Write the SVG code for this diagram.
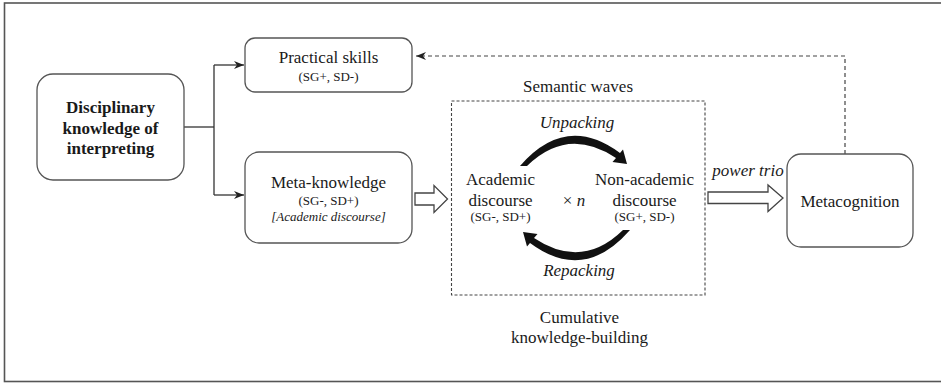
<svg xmlns="http://www.w3.org/2000/svg" width="941" height="383" viewBox="0 0 941 383" font-family="Liberation Serif, Tinos, DejaVu Serif, serif">
<style>
text{font-family:'Liberation Serif',Tinos,'Times New Roman','DejaVu Serif',serif;fill:#1a1a1a;text-anchor:middle}
.t{font-size:17px}
.s{font-size:13px}
.b{font-weight:bold}
.i{font-style:italic}
.box{fill:#fff;stroke:#555;stroke-width:1.3}
.ln{fill:none;stroke:#333;stroke-width:1.3}
.dash{fill:none;stroke:#444;stroke-width:1.2;stroke-dasharray:4 3}
.hollow{fill:#fff;stroke:#444;stroke-width:1.3;stroke-linejoin:miter}
.curve{fill:#111;stroke:none}
</style>
<defs>
<marker id="ah" viewBox="0 0 10 8" refX="10" refY="4" markerWidth="10" markerHeight="8" markerUnits="userSpaceOnUse" orient="auto">
<path d="M0,0 L10,4 L0,8 L3,4 Z" fill="#222"/>
</marker>
</defs>
<rect x="4.5" y="3" width="960" height="378.5" fill="#fff" stroke="#555" stroke-width="1.6"/>

<g id="connectors">
<path class="ln" d="M184,127 H214"/>
<path class="ln" d="M214,65 V195"/>
<path class="ln" d="M214,65 H244" marker-end="url(#ah)"/>
<path class="ln" d="M214,195 H244" marker-end="url(#ah)"/>
<path class="dash" d="M845,154 V56 H416" marker-end="url(#ah)"/>
<path class="hollow" d="M415,193 H434 V185.5 L447.5,199 L434,212.5 V205 H415 Z"/>
<path class="hollow" d="M708,192 H768 V185 L783,198 L768,211.5 V203.5 H708 Z"/>
<text class="t i" x="748" y="176">power trio</text>
</g>

<g id="disciplinary">
<rect class="box" x="37" y="74" width="147" height="106" rx="16"/>
<text class="t b" x="110.5" y="113">Disciplinary</text>
<text class="t b" x="110.5" y="133.5">knowledge of</text>
<text class="t b" x="110.5" y="154">interpreting</text>
</g>

<g id="practical">
<rect class="box" x="245" y="38" width="167" height="54" rx="10"/>
<text class="t" x="328.5" y="63">Practical skills</text>
<text class="s" x="328.5" y="81">(SG+, SD-)</text>
</g>

<g id="meta">
<rect class="box" x="245" y="152" width="167" height="91" rx="14"/>
<text class="t" x="328.5" y="188">Meta-knowledge</text>
<text class="s" x="328.5" y="205">(SG-, SD+)</text>
<text class="s i" x="328.5" y="220.5">[Academic discourse]</text>
</g>

<g id="semantic">
<text class="t" x="578" y="92">Semantic waves</text>
<rect x="451.5" y="101" width="253.5" height="194" fill="none" stroke="#444" stroke-width="1.1" stroke-dasharray="3 2"/>
<text class="t i" x="577" y="128">Unpacking</text>
<path class="curve" d="M520,166 Q566,113 620,153 L623,149.5 L627,164 L612.5,162 L616,158 Q568,126 527,166 Z"/>
<path class="curve" transform="rotate(180 575 198)" d="M520,166 Q566,113 620,153 L623,149.5 L627,164 L612.5,162 L616,158 Q568,126 527,166 Z"/>
<text class="t" x="500.5" y="185">Academic</text>
<text class="t" x="500.5" y="206">discourse</text>
<text class="s" x="500.5" y="221">(SG-, SD+)</text>
<text class="t" x="574" y="206">× <tspan class="i">n</tspan></text>
<text class="t" x="644.5" y="185">Non-academic</text>
<text class="t" x="644.5" y="206">discourse</text>
<text class="s" x="644.5" y="221">(SG+, SD-)</text>
<text class="t i" x="579" y="276">Repacking</text>
<text class="t" x="579.5" y="322.5">Cumulative</text>
<text class="t" x="579.5" y="343">knowledge-building</text>
</g>

<g id="metacognition">
<rect class="box" x="787" y="154" width="126" height="93" rx="14"/>
<text class="t" x="850" y="206.5">Metacognition</text>
</g>
</svg>
